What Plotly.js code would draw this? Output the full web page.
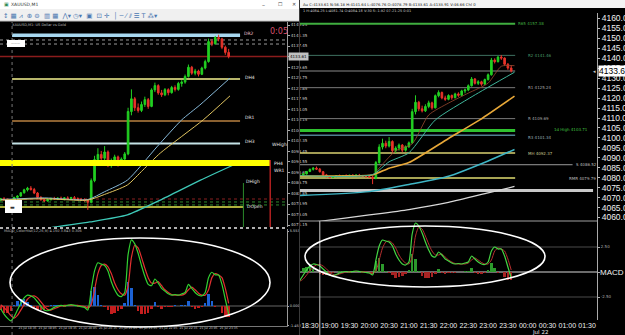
<!DOCTYPE html>
<html><head><meta charset="utf-8">
<script src="https://cdn.plot.ly/plotly-3.0.1.min.js"></script>
<style>html,body{margin:0;padding:0;background:#000;overflow:hidden}#chart{width:625px;height:335px}</style>
</head><body><div id="chart"></div>
<script>
// ---------- DATA ----------
const times = ["2025-07-21 17:55","2025-07-21 18:00","2025-07-21 18:05","2025-07-21 18:10","2025-07-21 18:15","2025-07-21 18:20","2025-07-21 18:25","2025-07-21 18:30","2025-07-21 18:35","2025-07-21 18:40",
"2025-07-21 18:45","2025-07-21 18:50","2025-07-21 18:55","2025-07-21 19:00","2025-07-21 19:05","2025-07-21 19:10","2025-07-21 19:15","2025-07-21 19:20","2025-07-21 19:25","2025-07-21 19:30",
"2025-07-21 19:35","2025-07-21 19:40","2025-07-21 19:45","2025-07-21 19:50","2025-07-21 19:55","2025-07-21 20:00","2025-07-21 20:05","2025-07-21 20:10","2025-07-21 20:15","2025-07-21 20:20",
"2025-07-21 20:25","2025-07-21 20:30","2025-07-21 20:35","2025-07-21 20:40","2025-07-21 20:45","2025-07-21 20:50","2025-07-21 20:55","2025-07-21 21:00","2025-07-21 21:05","2025-07-21 21:10",
"2025-07-21 21:15","2025-07-21 21:20","2025-07-21 21:25","2025-07-21 21:30","2025-07-21 21:35","2025-07-21 21:40","2025-07-21 21:45","2025-07-21 21:50","2025-07-21 21:55","2025-07-21 22:00",
"2025-07-21 22:05","2025-07-21 22:10","2025-07-21 22:15","2025-07-21 22:20","2025-07-21 22:25","2025-07-21 22:30","2025-07-21 22:35","2025-07-21 22:40","2025-07-21 22:45","2025-07-21 22:50",
"2025-07-21 22:55","2025-07-21 23:00","2025-07-21 23:05","2025-07-21 23:10","2025-07-21 23:15","2025-07-21 23:20","2025-07-21 23:25","2025-07-21 23:30","2025-07-21 23:35"];

const openP = [4080.6,4080.9,4080.5,4080.2,4080.6,4081.4,4081.9,4083.1,4084.2,4084.8,
4084.3,4083.0,4081.4,4080.5,4080.1,4080.6,4081.0,4080.8,4081.1,4080.9,
4081.2,4081.0,4081.3,4080.9,4080.7,4080.5,4080.3,4079.6,4087.6,4095.4,
4097.3,4095.9,4098.2,4093.6,4094.9,4096.4,4093.8,4095.6,4097.5,4113.2,
4117.9,4114.6,4113.6,4115.8,4117.6,4115.1,4121.2,4122.8,4120.1,4119.4,
4121.3,4120.2,4122.1,4121.4,4123.6,4124.1,4126.2,4129.6,4127.4,4128.2,
4127.0,4129.3,4131.7,4139.1,4138.3,4140.6,4140.1,4137.0,4135.1];
const highP = [4081.2,4081.5,4081.0,4080.8,4081.6,4082.2,4083.4,4084.6,4085.3,4085.6,
4084.9,4083.4,4081.9,4081.0,4080.9,4081.3,4081.6,4081.4,4081.7,4081.5,
4081.8,4081.6,4081.9,4081.4,4081.2,4081.0,4080.8,4088.4,4096.8,4099.6,
4098.6,4100.4,4098.8,4095.8,4097.2,4096.9,4096.2,4098.2,4114.6,4121.4,
4118.6,4116.2,4116.9,4118.7,4118.2,4121.8,4123.9,4123.3,4121.2,4121.9,
4121.8,4122.7,4122.9,4124.2,4124.8,4126.9,4130.6,4130.1,4129.0,4128.7,
4129.8,4132.4,4140.2,4140.0,4141.2,4141.64,4140.5,4137.6,4136.4];
const lowP = [4080.0,4080.3,4079.8,4079.6,4080.2,4080.9,4081.6,4082.8,4083.6,4083.9,
4082.6,4081.0,4080.2,4079.7,4079.8,4080.2,4080.5,4080.4,4080.6,4080.3,
4080.7,4080.5,4080.8,4080.3,4080.1,4079.8,4076.76,4079.2,4087.0,4094.2,
4094.8,4095.2,4092.6,4092.4,4093.6,4092.8,4093.1,4094.9,4097.0,4111.8,
4113.4,4112.8,4113.0,4114.9,4114.2,4114.8,4120.4,4119.4,4118.6,4118.9,
4119.2,4119.8,4120.6,4120.9,4122.4,4123.5,4125.8,4126.8,4126.6,4126.2,
4126.7,4128.8,4131.3,4137.4,4137.9,4139.2,4136.3,4134.2,4132.9];
const closeP = [4080.9,4080.5,4080.2,4080.6,4081.4,4081.9,4083.1,4084.2,4084.8,4084.3,
4083.0,4081.4,4080.5,4080.1,4080.6,4081.0,4080.8,4081.1,4080.9,4081.2,
4081.0,4081.3,4080.9,4080.7,4080.5,4080.3,4079.6,4087.6,4095.4,4097.3,
4095.9,4098.2,4093.6,4094.9,4096.4,4093.8,4095.6,4097.5,4113.2,4117.9,
4114.6,4113.6,4115.8,4117.6,4115.1,4121.2,4122.8,4120.1,4119.4,4121.3,
4120.2,4122.1,4121.4,4123.6,4124.1,4126.2,4129.6,4127.4,4128.2,4127.0,
4129.3,4131.7,4139.1,4138.3,4140.6,4140.1,4137.0,4135.1,4133.61];

const macdLine = [-0.2,-0.6,-0.9,-1.1,-0.8,-0.3,0.2,0.6,0.8,0.75,
0.6,0.3,0.0,-0.3,-0.35,-0.25,-0.1,0.0,0.05,0.0,
0.05,0.1,0.05,0.0,-0.05,-0.1,-0.3,1.2,2.6,3.2,
3.1,3.0,2.6,1.8,1.2,0.8,0.7,1.0,3.8,4.9,
4.6,3.9,3.0,2.2,1.6,1.5,2.0,1.7,1.3,1.1,
0.9,0.8,0.85,0.8,0.9,1.0,1.6,1.3,1.0,0.8,
0.75,1.0,2.1,2.5,2.3,2.3,1.6,0.5,-0.6];
const signalLine = [0.1,-0.1,-0.4,-0.7,-0.9,-0.7,-0.3,0.1,0.5,0.7,
0.75,0.6,0.3,0.0,-0.25,-0.3,-0.2,-0.1,0.0,0.05,
0.05,0.05,0.05,0.05,0.0,-0.05,-0.15,0.1,1.2,2.4,
3.0,3.1,2.9,2.4,1.7,1.2,0.9,0.8,1.5,3.6,
4.5,4.3,3.6,2.8,2.1,1.7,1.7,1.8,1.5,1.2,
1.0,0.85,0.8,0.8,0.8,0.9,1.2,1.4,1.2,0.95,
0.8,0.8,1.2,2.1,2.4,2.3,2.1,1.3,0.2];
const macdHist = [-0.3,-0.5,-0.5,-0.4,0.1,0.4,0.5,0.5,0.3,0.05,
-0.15,-0.3,-0.3,-0.3,-0.1,0.05,0.1,0.1,0.05,-0.05,
0.0,0.05,0.0,-0.05,-0.05,-0.05,-0.15,1.1,1.4,0.8,
0.1,-0.1,-0.3,-0.6,-0.5,-0.4,-0.2,0.2,1.8,1.3,
0.1,-0.4,-0.6,-0.6,-0.5,-0.2,0.3,-0.1,-0.2,-0.1,
-0.1,-0.05,0.05,0.0,0.1,0.1,0.4,-0.1,-0.2,-0.15,
-0.05,0.2,0.9,0.4,-0.1,0.0,-0.5,-0.8,-0.8];

// left (MT4) moving averages
const leftMaSlowTimes = ["2025-07-21 18:40","2025-07-21 19:10","2025-07-21 20:08","2025-07-21 21:04","2025-07-21 21:53","2025-07-21 22:53","2025-07-21 23:42"];
const leftMaSlowValues = [4068.6,4070.2,4072.3,4074.9,4080.4,4087.8,4093.4];
const leftMaMidTimes = ["2025-07-21 17:55","2025-07-21 19:00","2025-07-21 20:05","2025-07-21 20:30","2025-07-21 21:04","2025-07-21 21:48","2025-07-21 22:25","2025-07-21 22:52","2025-07-21 23:37"];
const leftMaMidValues = [4080.6,4081.2,4080.6,4083.5,4087.8,4100.1,4110.1,4115.6,4125.6];
const leftMaFastTimes = ["2025-07-21 17:55","2025-07-21 19:00","2025-07-21 20:05","2025-07-21 20:30","2025-07-21 21:04","2025-07-21 21:27","2025-07-21 21:53","2025-07-21 22:57","2025-07-21 23:37"];
const leftMaFastValues = [4080.4,4080.9,4080.4,4082.5,4086.0,4091.5,4097.8,4110.1,4119.0];

// right moving averages
const rightMaWhiteTimes = ["2025-07-21 18:15","2025-07-21 18:45","2025-07-21 20:00","2025-07-21 21:00","2025-07-21 22:00","2025-07-21 23:00","2025-07-21 23:40"];
const rightMaWhiteValues = [4056.9,4058.1,4061.3,4064.0,4067.6,4072.4,4075.6];
const rightMaTealTimes = ["2025-07-21 18:15","2025-07-21 20:00","2025-07-21 21:00","2025-07-21 22:00","2025-07-21 23:00","2025-07-21 23:40"];
const rightMaTealValues = [4071.0,4073.0,4076.6,4080.7,4088.4,4094.2];
const rightMaOrangeTimes = ["2025-07-21 18:15","2025-07-21 19:30","2025-07-21 20:05","2025-07-21 20:30","2025-07-21 21:00","2025-07-21 22:00","2025-07-21 22:48","2025-07-21 23:40"];
const rightMaOrangeValues = [4080.8,4080.9,4081.4,4084.8,4087.6,4099.7,4109.2,4121.0];
const rightMaGreenTimes = ["2025-07-21 18:15","2025-07-21 20:05","2025-07-21 20:30","2025-07-21 21:00","2025-07-21 21:40","2025-07-21 22:37","2025-07-21 23:40"];
const rightMaGreenValues = [4081.0,4081.6,4088.0,4092.5,4109.0,4121.0,4133.0];
const rightMaBrownTimes = ["2025-07-21 20:10","2025-07-21 20:40","2025-07-21 21:05","2025-07-21 21:30","2025-07-21 22:00","2025-07-21 22:30","2025-07-21 23:00","2025-07-21 23:20","2025-07-21 23:40"];
const rightMaBrownValues = [4083.0,4093.5,4097.0,4111.5,4117.5,4122.5,4127.5,4136.0,4136.3];

// levels
const leftLevelNames = ["DR2","DH4","DR1","DH3","PH4","DOpen"];
const leftLevelValues = [4141.46,4125.24,4109.69,4101.34,4094.1,4077.8];
const leftDottedLevels = [4139.7,4138.2,4080.8,4079.7,4078.6];
const currentPrice = 4133.61;
const rightLevelNames = ["R65 4157.38","R2 4141.46","R1 4125.24","R 4109.69","1d High 4103.71","R3 4101.34","MH 4092.37","S 4086.52","RMR 4079.79"];
const rightLevelValues = [4157.38,4141.46,4125.24,4109.69,4103.71,4101.34,4092.37,4086.52,4079.79];
const rightBandLevel = 4073.6;

// tick labels
const rightTickVals = ["2025-07-21 18:30","2025-07-21 19:00","2025-07-21 19:30","2025-07-21 20:00","2025-07-21 20:30","2025-07-21 21:00","2025-07-21 21:30","2025-07-21 22:00","2025-07-21 22:30","2025-07-21 23:00","2025-07-21 23:30","2025-07-22 00:00","2025-07-22 00:30","2025-07-22 01:00","2025-07-22 01:30"];
const rightTickText = ["18:30","19:00","19:30","20:00","20:30","21:00","21:30","22:00","22:30","23:00","23:30","00:00","00:30","01:00","01:30"];
const leftTickVals = ["2025-07-21 18:05","2025-07-21 18:35","2025-07-21 19:05","2025-07-21 19:35","2025-07-21 20:05","2025-07-21 20:35","2025-07-21 21:05","2025-07-21 21:35","2025-07-21 22:05","2025-07-21 22:35","2025-07-21 23:05","2025-07-21 23:35"];
const leftTickText = ["21 Jul 18:05","21 Jul 18:35","21 Jul 19:05","21 Jul 19:35","21 Jul 20:05","21 Jul 20:35","21 Jul 21:05","21 Jul 21:35","21 Jul 22:05","21 Jul 22:35","21 Jul 23:05","21 Jul 23:35"];
const leftMacdTickVals = [5.55,0,-1.45];
const leftMacdTickText = ["5.553","0.000","-1.452"];
const rightMacdTickVals = [2.5,0,-2.5];
const rightMacdTickText = ["2.50","","-2.50"];

// ---------- LAYOUT HELPERS ----------
const W=625,H=335;
const px=x=>x/W, py=y=>1-y/H;
const L0="2025-07-21 17:54", L1="2025-07-22 01:02";
const R0="2025-07-21 18:15", R1="2025-07-22 01:45";

const traces=[];
function candles(xa,ya){
  return {type:'candlestick',x:times,open:openP,high:highP,low:lowP,close:closeP,xaxis:xa,yaxis:ya,hoverinfo:'skip',
    increasing:{line:{color:'#22d022',width:1},fillcolor:'#22d022'},
    decreasing:{line:{color:'#e8332a',width:1},fillcolor:'#e8332a'},whiskerwidth:0};
}
function line(x,y,xa,ya,color,width){return {type:'scatter',mode:'lines',x:x,y:y,xaxis:xa,yaxis:ya,line:{color:color,width:width,shape:'spline',smoothing:0.6},hoverinfo:'skip'};}

traces.push(line(leftMaSlowTimes,leftMaSlowValues,'x','y','#3ec9b8',1.3));
traces.push(line(leftMaMidTimes,leftMaMidValues,'x','y','#86b8d8',1));
traces.push(line(leftMaFastTimes,leftMaFastValues,'x','y','#e0c460',1));
traces.push(candles('x','y'));
traces.push(line(rightMaWhiteTimes,rightMaWhiteValues,'x3','y3','#d8d8d8',1.2));
traces.push(line(rightMaTealTimes,rightMaTealValues,'x3','y3','#3fb6c6',1.5));
traces.push(line(rightMaOrangeTimes,rightMaOrangeValues,'x3','y3','#e8a838',1.6));
traces.push(line(rightMaGreenTimes,rightMaGreenValues,'x3','y3','#3fb59a',1));
traces.push(line(rightMaBrownTimes,rightMaBrownValues,'x3','y3','#9a4a30',0.8));
traces.push(candles('x3','y3'));
traces.push({type:'bar',x:times,y:macdHist,xaxis:'x2',yaxis:'y2',width:220000,marker:{color:macdHist.map(v=>v>=0?'#1c62d4':'#c41e1e'),line:{width:0}},hoverinfo:'skip'});
traces.push(line(times,signalLine,'x2','y2','#e23030',1.2));
traces.push(line(times,macdLine,'x2','y2','#32d232',1.2));
traces.push({type:'bar',x:times,y:macdHist,xaxis:'x4',yaxis:'y4',width:220000,marker:{color:macdHist.map(v=>v>=0?'#2c9a2c':'#a82424'),line:{width:0}},hoverinfo:'skip'});
traces.push(line(times,signalLine,'x4','y4','#b83030',1));
traces.push(line(times,macdLine,'x4','y4','#44d644',1.2));

// ---------- SHAPES ----------
const shapes=[];
function rectPx(x0,y0,x1,y1,fill,lc){shapes.push({type:'rect',xref:'paper',yref:'paper',x0:px(x0),x1:px(x1),y0:py(y1),y1:py(y0),fillcolor:fill,line:{width:lc?0.8:0,color:lc||fill},layer:'above'});}
function linePx(x0,y0,x1,y1,color,width,dash){shapes.push({type:'line',xref:'paper',yref:'paper',x0:px(x0),x1:px(x1),y0:py(y0),y1:py(y1),line:{color:color,width:width,dash:dash||'solid'},layer:'above'});}

rectPx(0,0,299,9,'#ffffff');
rectPx(0,9,299,21,'#f0f0f0');
linePx(0,21,299,21,'#c0c0c0',1);
rectPx(300,0,625,8,'#f4f4f4');
linePx(299.5,0,299.5,335,'#3a3a3a',1);

const leftStyles=[
 {c:'#a8d8f0',w:3.5,x0:"2025-07-21 18:12",x1:"2025-07-21 23:52",layer:'below'},
 {c:'#b8b66c',w:2,x0:"2025-07-21 18:12",x1:"2025-07-21 23:52",layer:'below'},
 {c:'#b88040',w:1.5,x0:"2025-07-21 18:12",x1:"2025-07-21 23:52",layer:'below'},
 {c:'#c4e2e6',w:2,x0:"2025-07-21 18:12",x1:"2025-07-21 23:52",layer:'below'},
 {c:'#ffff00',w:6,x0:L0,x1:"2025-07-22 00:37",layer:'above'},
 {c:'#e8e850',w:1.5,x0:L0,x1:"2025-07-21 23:57",layer:'below'}];
leftLevelValues.forEach((v,i)=>{const s=leftStyles[i];shapes.push({type:'line',xref:'x',yref:'y',x0:s.x0,x1:s.x1,y0:v,y1:v,line:{color:s.c,width:s.w},layer:s.layer});});
const dottedColors=['#9a9a9a','#9a9a9a','#8a2020','#2e8a2e','#2e8a2e'];
leftDottedLevels.forEach((v,i)=>shapes.push({type:'line',xref:'x',yref:'y',x0:L0,x1:L1,y0:v,y1:v,line:{color:dottedColors[i],width:1,dash:'dot'},layer:'below'}));
shapes.push({type:'line',xref:'x',yref:'y',x0:L0,x1:L1,y0:currentPrice,y1:currentPrice,line:{color:'#8b1c1c',width:1.5},layer:'below'});
shapes.push({type:'line',xref:'x',yref:'paper',x0:"2025-07-21 18:12",x1:"2025-07-21 18:12",y0:0,y1:py(22),line:{color:'#777',width:1,dash:'dot'},layer:'above'});
shapes.push({type:'line',xref:'x',yref:'paper',x0:"2025-07-21 23:57",x1:"2025-07-21 23:57",y0:py(227),y1:py(183),line:{color:'#2a8a2a',width:1},layer:'above'});
shapes.push({type:'line',xref:'x',yref:'paper',x0:"2025-07-22 00:37",x1:"2025-07-22 00:37",y0:py(227),y1:py(160),line:{color:'#b02020',width:1.5},layer:'above'});
linePx(0,228,287,228,'#b0b0b0',2,'dot');
rectPx(7,40,25,47,'#ffffff');
rectPx(5,200,22,213,'#ffffff');

const rightStyles=[
 {c:'#3fae3f',w:2,x1:"2025-07-21 23:41"},
 {c:'#3e7060',w:1,x1:"2025-07-21 23:41"},
 {c:'#7a7a7a',w:1,x1:"2025-07-21 23:41"},
 {c:'#7a7a7a',w:1,x1:"2025-07-21 23:41"},
 {c:'#2fc12f',w:3,x1:"2025-07-21 23:41"},
 {c:'#4f7f90',w:1.5,x1:"2025-07-21 23:41"},
 {c:'#d8d070',w:1.5,x1:"2025-07-21 23:41"},
 {c:'#9a9a9a',w:1,x1:"2025-07-22 01:08"},
 {c:'#e0dc70',w:1.5,x1:"2025-07-21 23:41"}];
rightLevelValues.forEach((v,i)=>{const s=rightStyles[i];shapes.push({type:'line',xref:'x3',yref:'y3',x0:R0,x1:s.x1,y0:v,y1:v,line:{color:s.c,width:s.w},layer:'below'});});
shapes.push({type:'line',xref:'x3',yref:'y3',x0:R0,x1:"2025-07-21 23:41",y0:currentPrice,y1:currentPrice,line:{color:'#8a8a8a',width:1},layer:'below'});
shapes.push({type:'line',xref:'x3',yref:'y3',x0:R0,x1:"2025-07-22 01:39",y0:rightBandLevel,y1:rightBandLevel,line:{color:'#c8c8c8',width:3},layer:'below'});
linePx(300,221,597,221,'#a0a0a0',1);
shapes.push({type:'line',xref:'x4',yref:'y4',x0:R0,x1:R1,y0:0,y1:0,line:{color:'#d8d8d8',width:1},layer:'below'});
shapes.push({type:'line',xref:'x4',yref:'y4',x0:R0,x1:R1,y0:2.5,y1:2.5,line:{color:'#4a4a4a',width:1},layer:'below'});
shapes.push({type:'line',xref:'x4',yref:'y4',x0:R0,x1:R1,y0:-2.5,y1:-2.5,line:{color:'#4a4a4a',width:1},layer:'below'});
shapes.push({type:'line',xref:'x4',yref:'paper',x0:"2025-07-21 18:45",x1:"2025-07-21 18:45",y0:0,y1:py(221),line:{color:'#c8c8c8',width:1},layer:'above'});
shapes.push({type:'line',xref:'x2',yref:'y2',x0:L0,x1:L1,y0:0,y1:0,line:{color:'#666',width:1},layer:'below'});
shapes.push({type:'circle',xref:'paper',yref:'paper',x0:px(10),x1:px(270),y0:py(327),y1:py(238),line:{color:'#ffffff',width:1.6},layer:'above'});
shapes.push({type:'circle',xref:'paper',yref:'paper',x0:px(305),x1:px(545),y0:py(287),y1:py(226),line:{color:'#ffffff',width:1.6},layer:'above'});

// ---------- ANNOTATIONS ----------
const ann=[];
function textPx(x,y,t,size,color,opts){ann.push(Object.assign({xref:'paper',yref:'paper',x:px(x),y:py(y),text:t,showarrow:false,xanchor:'left',yanchor:'middle',font:{size:size,color:color,family:'DejaVu Sans, sans-serif'}},opts||{}));}
textPx(2,4.5,'▣',5,'#2e8b57');
textPx(9,4.5,'XAUUSD,M1',4.5,'#333');
textPx(260,4.5,'–',6,'#444');
textPx(276,4.5,'☐',5,'#444');
textPx(290,4.5,'✕',5,'#444');
textPx(1,15,'↕ ▦ ⩘  ⊕ ⊖  ▥ ▦  ⋀▾ ◷▾  ▣  ⊡ ✛  │ ─ ⁄ ⫽ ☰ T ⁂▾',6.5,'#4a78b0');
textPx(10,24.5,'XAUUSD,M1: US Dollar vs Gold',3.5,'#bbbbbb');
textPx(9,43.5,'———',3,'#333');
textPx(8,206.5,'▬',5,'#333');
textPx(268,32,'0:05',8,'#d8506e');
const leftLabelPos=[[242,33],[243,78],[243,118],[243,142],[272,163],[245,206]];
leftLevelNames.forEach((n,i)=>textPx(leftLabelPos[i][0],leftLabelPos[i][1],n,4.5,i===0?'#f0c8d8':'#e6e6e6'));
textPx(270,144,'WHigh',4.5,'#e6e6e6');
textPx(272,170,'WR1',4.5,'#e6e6e6');
textPx(244,181,'DHigh',4.5,'#e6e6e6');
ann.push({xref:'paper',yref:'y',x:px(288),y:currentPrice,text:'4133.61',showarrow:false,xanchor:'left',yanchor:'middle',bgcolor:'#c0c0c0',font:{size:4,color:'#000',family:'DejaVu Sans'}});
textPx(2,231,'MACD_ColorHist(12,26,9) 4.150 3.843 0.306',3.5,'#bbbbbb');
textPx(301,4.5,'Au C:4133.61 N:56.18 H:4141.64 L:4076.76 O:4078.79 B:4133.61 A:4133.91 V:46.66 Chl 0',3.8,'#222');
textPx(301,11,'1 H:4084.25 L:4081.74 O:4084.18 V:30 S:-1.92 07-21-25 0:01',3.5,'#cccccc');
const rightLabelX=["2025-07-21 23:43","2025-07-21 23:58","2025-07-21 23:57","2025-07-21 23:58","2025-07-22 00:37","2025-07-21 23:57","2025-07-21 23:57","2025-07-22 01:10","2025-07-22 00:59"];
const rightLabelColors=['#40b040','#4a9a6a','#aaaaaa','#aaaaaa','#40c040','#9ab0b8','#c8c890','#bbbbbb','#bbbbbb'];
rightLevelNames.forEach((n,i)=>ann.push({xref:'x3',yref:'y3',x:rightLabelX[i],y:rightLevelValues[i],text:n,showarrow:false,xanchor:'left',yanchor:'middle',yshift:(i===5?-2:(i===4?1:0)),font:{size:4,color:rightLabelColors[i],family:'DejaVu Sans'}}));
ann.push({xref:'paper',yref:'y3',x:px(597.5),y:currentPrice,text:'4133.61',showarrow:false,xanchor:'left',yanchor:'middle',bgcolor:'#ffffff',borderpad:0,font:{size:8.5,color:'#000',family:'Liberation Sans, Arial'}});
textPx(591,71,'◂',5,'#cccccc');
ann.push({xref:'paper',yref:'y4',x:px(598),y:0,text:'MACD 1',showarrow:false,xanchor:'left',yanchor:'middle',font:{size:8,color:'#f0f0f0',family:'Liberation Sans, Arial'}});
textPx(530,332,'Jul 22',5.5,'#f0f0f0',{yanchor:'middle'});

// ---------- LAYOUT ----------
const layout={
  width:W,height:H,margin:{l:0,r:0,t:0,b:0},paper_bgcolor:'#000',plot_bgcolor:'#000',showlegend:false,
  font:{family:'DejaVu Sans, sans-serif',color:'#ddd',size:5},bargap:0,
  xaxis:{domain:[0,px(287)],range:[L0,L1],type:'date',anchor:'y',showticklabels:false,showgrid:false,zeroline:false,rangeslider:{visible:false},showline:false,ticks:''},
  yaxis:{domain:[py(227),py(22)],range:[4070.43,4146.36],side:'right',anchor:'x',showgrid:false,zeroline:false,tick0:4145.25,dtick:3.9,tickformat:'.2f',tickfont:{size:4,color:'#cfcfcf'},ticks:'outside',ticklen:2,tickcolor:'#aaa',showline:true,linecolor:'#9a9a9a',linewidth:1},
  xaxis2:{domain:[0,px(287)],range:[L0,L1],type:'date',anchor:'y2',tickmode:'array',tickvals:leftTickVals,ticktext:leftTickText,tickangle:0,tickfont:{size:3,color:'#cfcfcf'},ticklabelstandoff:-2,showgrid:false,zeroline:false,ticks:'',showline:true,linecolor:'#777'},
  yaxis2:{domain:[py(326),py(229)],range:[-1.48,5.7],side:'right',anchor:'x2',tickmode:'array',tickvals:leftMacdTickVals,ticktext:leftMacdTickText,tickfont:{size:3.5,color:'#cfcfcf'},showgrid:false,zeroline:false,showline:true,linecolor:'#9a9a9a',ticks:'outside',ticklen:1,tickcolor:'#aaa'},
  xaxis3:{domain:[px(300),px(597)],range:[R0,R1],type:'date',anchor:'y3',showticklabels:false,showgrid:false,zeroline:false,rangeslider:{visible:false},ticks:''},
  yaxis3:{domain:[py(221),py(13)],range:[4058.24,4162.76],side:'right',anchor:'x3',tick0:4060,dtick:5,tickformat:'.2f',tickfont:{family:'Liberation Sans, Arial',size:8.5,color:'#f0f0f0'},ticks:'outside',ticklen:2,tickcolor:'#bbb',showline:true,linecolor:'#aaaaaa',showgrid:false,zeroline:false},
  xaxis4:{domain:[px(300),px(597)],range:[R0,R1],type:'date',anchor:'y4',tickmode:'array',tickvals:rightTickVals,ticktext:rightTickText,tickangle:0,tickfont:{family:'Liberation Sans, Arial',size:7,color:'#f0f0f0'},ticks:'',showgrid:false,zeroline:false,showline:false},
  yaxis4:{domain:[py(320),py(221)],range:[-4.8,5.1],side:'right',anchor:'x4',tickmode:'array',tickvals:rightMacdTickVals,ticktext:rightMacdTickText,tickfont:{size:4,color:'#aaaaaa'},showgrid:false,zeroline:false,showline:true,linecolor:'#aaaaaa',ticks:'outside',ticklen:2,tickcolor:'#aaa'},
  shapes:shapes,annotations:ann
};
Plotly.newPlot('chart',traces,layout,{staticPlot:true,displayModeBar:false});
</script></body></html>
